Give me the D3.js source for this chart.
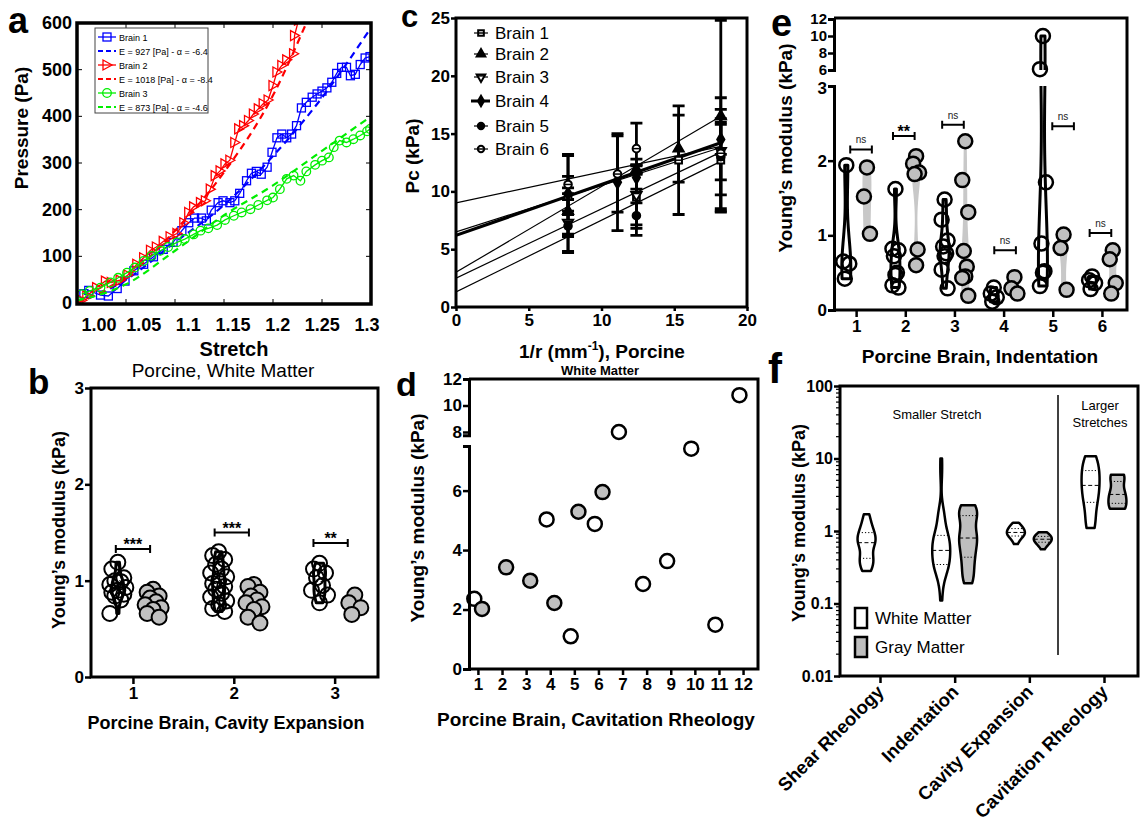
<!DOCTYPE html>
<html>
<head>
<meta charset="utf-8">
<script src="https://cdn.jsdelivr.net/npm/d3@7"></script>
<style>
  body { margin: 0; background: #fff; }
  svg text { font-family: "Liberation Sans", Arial, Helvetica, sans-serif; }
</style>
</head>
<body>
<svg id="fig" width="1144" height="830"></svg>
<script>
// ---------- panel a: pressure vs stretch ----------
const stretchB1 = [1.007,1.012,1.024,1.032,1.041,1.049,1.058,1.068,1.078,1.088,1.098,1.107,1.114,1.120,1.127,1.132,1.137,1.144,1.149,1.156,1.161,1.166,1.173,1.178,1.183,1.188,1.194,1.199,1.204,1.209,1.214,1.219,1.224,1.229,1.234,1.240,1.245,1.250,1.255,1.260,1.265,1.270,1.275,1.279,1.284,1.289,1.294,1.299];
const pressureB1 = [20,27,17,15,31,47,69,83,99,115,130,155,172,182,182,176,199,215,219,215,219,235,262,278,282,276,291,323,354,362,354,362,380,418,430,441,448,454,461,473,492,505,505,487,490,511,525,528];
const stretchB2 = [1.005,1.010,1.020,1.029,1.035,1.044,1.052,1.061,1.068,1.075,1.081,1.088,1.095,1.102,1.109,1.114,1.119,1.126,1.131,1.136,1.141,1.146,1.151,1.156,1.161,1.165,1.170,1.175,1.180,1.185,1.190,1.195,1.200,1.204,1.209,1.214,1.221,1.222,1.226];
const pressureB2 = [6,15,33,47,44,49,60,83,97,113,120,132,142,149,172,194,206,215,219,244,273,283,298,306,344,373,380,391,405,416,427,435,466,495,509,521,534,573,606];
const stretchB3 = [1.005,1.013,1.024,1.034,1.042,1.051,1.059,1.068,1.076,1.085,1.093,1.102,1.110,1.119,1.126,1.134,1.143,1.151,1.160,1.168,1.177,1.185,1.194,1.200,1.207,1.214,1.221,1.228,1.234,1.243,1.250,1.257,1.262,1.268,1.275,1.282,1.289,1.296,1.299];
const pressureB3 = [19,26,33,44,54,65,76,90,101,112,120,130,137,147,155,160,167,178,187,194,201,210,220,226,244,266,273,262,282,296,305,312,334,348,344,351,359,368,373];
const fitStretchB1 = [1.0,1.05,1.1,1.15,1.2,1.25,1.3];
const fitPressureB1 = [0,50,130,210,315,440,590];
const fitStretchB2 = [1.0,1.05,1.1,1.15,1.2,1.234];
const fitPressureB2 = [0,55,155,280,445,600];
const fitStretchB3 = [1.0,1.05,1.1,1.15,1.2,1.25,1.3];
const fitPressureB3 = [5,40,112,188,252,326,400];
const legendA = ['Brain 1','E = 927 [Pa] - \u03b1 = -6.4','Brain 2','E = 1018 [Pa] - \u03b1 = -8.4','Brain 3','E = 873 [Pa] - \u03b1 = -4.6'];
const stretchTicks = [1.0,1.05,1.1,1.15,1.2,1.25,1.3];
const stretchTickLabels = ['1.00','1.05','1.1','1.15','1.2','1.25','1.3'];

// ---------- panel c: Pc vs 1/r ----------
const brainNames = ['Brain 1','Brain 2','Brain 3','Brain 4','Brain 5','Brain 6'];
const invRadius = [[7.7,12.4,15.3,18.2],[7.7,12.4,15.3,18.2],[7.7,12.4,18.2],[7.7,11.1,12.4,18.2],[7.7,12.4,18.2],[7.7,11.1,12.4,18.2]];
const pcMean = [[9.6,9.5,12.7,12.7],[8.3,11.9,13.7,16.5],[7.3,9.7,13.5],[9.8,10.8,11.2,14.5],[7.0,7.9,13.0],[10.6,11.5,13.7,13.3]];
const pcSd = [[3.5,3.3,4.7,4.4],[2.0,0.4,2.9,8.3],[2.5,2.6,2.5],[1.5,4.2,1.0,1.3],[2.3,1.1,3.3],[2.6,3.3,2.2,4.8]];
const fitStartPc = [6.5,3.0,2.5,6.2,1.3,9.0];
const fitEndPc = [13.8,16.5,13.4,14.2,12.6,13.9];
const fitEndInvR = 18.2;

// ---------- panel b: cavity expansion ----------
const cavityWhite = [
  [1.19,1.12,1.03,1.0,0.99,0.96,0.93,0.9,0.88,0.86,0.84,0.80,0.66],
  [1.30,1.26,1.22,1.17,1.12,1.08,1.04,1.0,0.97,0.94,0.91,0.87,0.83,0.79,0.75,0.71,0.68],
  [1.18,1.12,1.08,1.03,0.95,0.90,0.85,0.77]
];
const cavityGray = [
  [0.91,0.88,0.84,0.82,0.78,0.75,0.72,0.70,0.66,0.62],
  [0.96,0.94,0.88,0.84,0.80,0.77,0.73,0.70,0.62,0.56],
  [0.85,0.77,0.72,0.65]
];
const cavitySig = ['***','***','**'];
const cavitySigLevel = [1.33,1.5,1.39];
const cavitySigCenter = [1.0,1.98,2.96];

// ---------- panel d: cavitation rheology ----------
const cavitationBrainWhite = [1,4,5,6,7,8,9,10,11,12];
const cavitationWhite = [2.36,5.03,1.10,4.88,8.0,2.86,3.63,7.41,1.49,10.78];
const cavitationBrainGray = [1,2,3,4,5,6];
const cavitationGray = [2.02,3.42,2.97,2.22,5.29,5.95];

// ---------- panel e: indentation ----------
const indentWhite = [
  [1.94,0.65,0.62,0.42],
  [1.62,0.82,0.80,0.72,0.50,0.47,0.33,0.30],
  [1.48,1.21,0.93,0.85,0.76,0.72,0.54,0.29],
  [0.30,0.22,0.17,0.11],
  [10.0,6.1,1.71,0.89,0.52,0.50,0.32],
  [0.45,0.40,0.36,0.28]
];
const indentGray = [
  [1.91,1.52,1.02],
  [2.06,1.96,1.84,1.82,0.81,0.60],
  [2.26,1.74,1.31,0.79,0.58,0.45,0.43,0.19],
  [0.44,0.29,0.22],
  [1.01,0.83,0.27],
  [0.80,0.68,0.36,0.22]
];
const indentSig = ['ns','**','ns','ns','ns','ns'];
const indentSigLevel = [2.15,2.33,2.48,0.80,2.46,1.03];
const indentSigCenter = [1.1,1.97,2.97,4.03,5.21,5.97];

// ---------- panel f: summary ----------
const methods = ['Shear Rheology','Indentation','Cavity Expansion','Cavitation Rheology'];
const shearWhite = [0.28,0.30,0.33,0.37,0.40,0.42,0.45,0.52,0.62,0.66,0.69,0.72,0.76,0.82,0.88,0.95,1.0,1.1,1.25,1.45,1.7];
const logTicks = [0.01,0.1,1,10,100];
const logTickLabels = ['0.01','0.1','1','10','100'];

const svg = d3.select('#fig');
svg.append('rect').attr('width', 1144).attr('height', 830).attr('fill', '#fff');
const FONT = '"Liberation Sans", Arial, Helvetica, sans-serif';
const GRAY = '#c0c0c0';
const fmtInt = d3.format('d');

function txt(g, x, y, s, size, bold, anchor) {
  return g.append('text').attr('x', x).attr('y', y).text(s)
    .attr('font-size', size).attr('font-weight', bold ? 'bold' : 'normal')
    .attr('text-anchor', anchor || 'start').attr('fill', '#000');
}

function vtxt(g, x, y, s, size) {
  return g.append('text').attr('transform', `translate(${x},${y}) rotate(-90)`)
    .attr('text-anchor', 'middle').attr('font-size', size).attr('font-weight', 'bold').text(s);
}

function styleAxis(a, size) {
  a.attr('font-family', FONT).attr('font-size', size).attr('font-weight', 'bold');
  a.selectAll('.domain').attr('stroke-width', 3);
  a.selectAll('.tick line').attr('stroke-width', 2.5);
  a.selectAll('.tick text').attr('fill', '#000');
}

function clip(id, x, y, w, h) {
  svg.append('clipPath').attr('id', id).append('rect')
    .attr('x', x).attr('y', y).attr('width', w).attr('height', h);
}

function frameLines(g, x0, y0, x1, y1) {
  g.append('path').attr('d', `M${x0},${y0}H${x1}V${y1}H${x0}`)
    .attr('fill', 'none').attr('stroke', '#000').attr('stroke-width', 3);
}

// violin from a gaussian kernel density, computed in pixel space
function violin(g, values, yPix, xc, halfMax, fill, stroke, sw, quart) {
  const px = values.map(yPix);
  const lo = d3.min(px), hi = d3.max(px);
  const bw = Math.max(1.06 * (d3.deviation(px) || 1) * Math.pow(px.length, -0.2) * 0.7, 3);
  const dens = y => d3.sum(px, p => Math.exp(-0.5 * ((y - p) / bw) ** 2));
  const grid = d3.range(61).map(i => lo + (hi - lo) * i / 60);
  const dMax = d3.max(grid, dens);
  const w = y => dens(y) / dMax * halfMax;
  const area = d3.area().y(d => d).x0(d => xc - w(d)).x1(d => xc + w(d)).curve(d3.curveBasis);
  g.append('path').attr('d', area(grid)).attr('fill', fill)
    .attr('stroke', stroke).attr('stroke-width', sw).attr('stroke-linejoin', 'round');
  if (quart) {
    const sorted = values.slice().sort(d3.ascending);
    [[0.25, '1.2,2'], [0.5, '4,2.5'], [0.75, '1.2,2']].forEach(([p, dash]) => {
      const yy = yPix(d3.quantile(sorted, p));
      const ww = w(yy);
      g.append('line').attr('x1', xc - ww).attr('x2', xc + ww).attr('y1', yy).attr('y2', yy)
        .attr('stroke', '#000').attr('stroke-width', 1).attr('stroke-dasharray', dash);
    });
  }
}

function bracket(g, x1, x2, y, label, bigStars) {
  g.append('path').attr('d', `M${x1},${y - 4}V${y + 4}M${x1},${y}H${x2}M${x2},${y - 4}V${y + 4}`)
    .attr('stroke', '#000').attr('stroke-width', 2).attr('fill', 'none');
  if (bigStars) txt(g, (x1 + x2) / 2, y + 1, label, 16, true, 'middle');
  else txt(g, (x1 + x2) / 2, y - 6, label, 10, false, 'middle').attr('fill', '#222');
}

const jitterB = [0, -6, 6, -3, 3, -8, 8];
const jitterE = [0, -3, 3, -1.5, 1.5];

// ================= panel a =================
function drawPanelA() {
  const g = svg.append('g');
  const x = d3.scaleLinear().domain([1.0, 1.3]).range([77, 371]);
  const xLab = d3.scaleLinear().domain([1.0, 1.3]).range([99, 367]);
  const y = d3.scaleLinear().domain([0, 600]).range([303, 23]);
  clip('clipA', 77, 23, 294, 281);
  const plot = g.append('g').attr('clip-path', 'url(#clipA)');

  const series = [
    { s: stretchB1, p: pressureB1, fs: fitStretchB1, fp: fitPressureB1, color: '#0000ff', mark: 'square' },
    { s: stretchB2, p: pressureB2, fs: fitStretchB2, fp: fitPressureB2, color: '#ff0000', mark: 'tri' },
    { s: stretchB3, p: pressureB3, fs: fitStretchB3, fp: fitPressureB3, color: '#00ee00', mark: 'circle' }
  ];
  const line = d3.line().x(d => x(d[0])).y(d => y(d[1]));
  const fitLine = d3.line().x(d => x(d[0])).y(d => y(d[1])).curve(d3.curveMonotoneX);

  function marker(gg, cx, cy, kind, color) {
    if (kind === 'square') {
      gg.append('rect').attr('x', cx - 4).attr('y', cy - 4).attr('width', 8).attr('height', 8)
        .attr('fill', 'none').attr('stroke', color).attr('stroke-width', 1.3);
    } else if (kind === 'tri') {
      gg.append('path').attr('d', `M${cx - 4},${cy - 5}L${cx + 5},${cy}L${cx - 4},${cy + 5}Z`)
        .attr('fill', 'none').attr('stroke', color).attr('stroke-width', 1.3);
    } else {
      gg.append('circle').attr('cx', cx).attr('cy', cy).attr('r', 4.3)
        .attr('fill', 'none').attr('stroke', color).attr('stroke-width', 1.3);
    }
  }

  series.forEach(sr => {
    const pts = sr.s.map((v, i) => [v, sr.p[i]]);
    plot.append('path').attr('d', line(pts)).attr('fill', 'none')
      .attr('stroke', sr.color).attr('stroke-width', 1.3);
    pts.forEach(d => marker(plot, x(d[0]), y(d[1]), sr.mark, sr.color));
    plot.append('path').attr('d', fitLine(sr.fs.map((v, i) => [v, sr.fp[i]])))
      .attr('fill', 'none').attr('stroke', sr.color).attr('stroke-width', 2.2)
      .attr('stroke-dasharray', '7,5');
  });

  // inside ticks
  d3.range(100, 600, 100).forEach(v => {
    g.append('line').attr('x1', 77).attr('x2', 82).attr('y1', y(v)).attr('y2', y(v)).attr('stroke', '#000').attr('stroke-width', 1);
    g.append('line').attr('x1', 366).attr('x2', 371).attr('y1', y(v)).attr('y2', y(v)).attr('stroke', '#000').attr('stroke-width', 1);
  });
  stretchTicks.slice(1, -1).forEach(v => {
    g.append('line').attr('x1', x(v)).attr('x2', x(v)).attr('y1', 304).attr('y2', 299).attr('stroke', '#000').attr('stroke-width', 1);
    g.append('line').attr('x1', x(v)).attr('x2', x(v)).attr('y1', 23).attr('y2', 28).attr('stroke', '#000').attr('stroke-width', 1);
  });
  g.append('rect').attr('x', 77).attr('y', 23).attr('width', 294).attr('height', 281)
    .attr('fill', 'none').attr('stroke', '#000').attr('stroke-width', 3.5);

  d3.range(0, 601, 100).forEach(v => txt(g, 72, y(v) + 6, String(v), 18, true, 'end'));
  stretchTicks.forEach((v, i) => txt(g, xLab(v), 331, stretchTickLabels[i], 18, true, 'middle'));
  vtxt(g, 28, 128, 'Pressure (Pa)', 19);
  txt(g, 234, 356, 'Stretch', 20, true, 'middle');
  txt(g, 8, 33, 'a', 36, true);

  // legend
  const lg = g.append('g');
  lg.append('rect').attr('x', 95).attr('y', 28).attr('width', 113).attr('height', 85)
    .attr('fill', '#fff').attr('stroke', '#444').attr('stroke-width', 1);
  legendA.forEach((s, i) => {
    const ly = 37 + i * 14;
    const sr = series[Math.floor(i / 2)];
    const dashed = i % 2 === 1;
    lg.append('line').attr('x1', 98).attr('x2', 116).attr('y1', ly).attr('y2', ly)
      .attr('stroke', sr.color).attr('stroke-width', dashed ? 2 : 1.3)
      .attr('stroke-dasharray', dashed ? '5,3' : null);
    if (!dashed) marker(lg, 107, ly, sr.mark, sr.color);
    txt(lg, 119, ly + 3.5, s, 9, false);
  });
}

// ================= panel c =================
function drawPanelC() {
  const g = svg.append('g');
  const x = d3.scaleLinear().domain([0, 20]).range([456, 747]);
  const y = d3.scaleLinear().domain([0, 25]).range([307, 18]);
  clip('clipC', 456, 18, 291, 289);
  const plot = g.append('g').attr('clip-path', 'url(#clipC)');

  fitStartPc.forEach((v, i) => {
    plot.append('line').attr('x1', x(0)).attr('y1', y(v)).attr('x2', x(fitEndInvR)).attr('y2', y(fitEndPc[i]))
      .attr('stroke', '#000').attr('stroke-width', i === 3 ? 3.2 : 1.2);
  });

  const symbols = [d3.symbolSquare, d3.symbolTriangle, d3.symbolTriangle, d3.symbolDiamond, d3.symbolCircle, d3.symbolCircle];
  const fills = ['#fff', '#000', '#fff', '#000', '#000', '#fff'];
  const rot = [0, 0, 180, 0, 0, 0];
  function mark(gg, cx, cy, i, size) {
    gg.append('path').attr('d', d3.symbol().type(symbols[i]).size(size)())
      .attr('transform', `translate(${cx},${cy}) rotate(${rot[i]})`)
      .attr('fill', fills[i]).attr('stroke', '#000').attr('stroke-width', 2);
    if (i === 0 || i === 5 || i === 2) {
      const h = Math.sqrt(size) / 2;
      const dy = i === 2 ? -h * 0.4 : 0;
      gg.append('line').attr('x1', cx - h).attr('x2', cx + h).attr('y1', cy + dy).attr('y2', cy + dy)
        .attr('stroke', '#000').attr('stroke-width', 1.5);
    }
  }

  invRadius.forEach((xs, i) => {
    xs.forEach((xv, j) => {
      const m = pcMean[i][j], s = pcSd[i][j];
      const cx = x(xv);
      plot.append('path')
        .attr('d', `M${cx - 6},${y(m + s)}H${cx + 6}M${cx},${y(m + s)}V${y(m - s)}M${cx - 6},${y(m - s)}H${cx + 6}`)
        .attr('stroke', '#000').attr('stroke-width', 2.8).attr('fill', 'none');
    });
  });
  invRadius.forEach((xs, i) => {
    xs.forEach((xv, j) => mark(plot, x(xv), y(pcMean[i][j]), i, 45));
  });

  g.append('rect').attr('x', 456).attr('y', 18).attr('width', 291).attr('height', 289)
    .attr('fill', 'none').attr('stroke', '#000').attr('stroke-width', 3);
  const ay = g.append('g').attr('transform', 'translate(456,0)')
    .call(d3.axisLeft(y).tickValues([0, 5, 10, 15, 20, 25]).tickFormat(fmtInt).tickSize(5).tickSizeOuter(0).tickPadding(1));
  styleAxis(ay, 17); ay.select('.domain').remove();
  const axb = g.append('g').attr('transform', 'translate(0,307)')
    .call(d3.axisBottom(x).tickValues([0, 5, 10, 15, 20]).tickFormat(fmtInt).tickSize(4).tickSizeOuter(0).tickPadding(3));
  styleAxis(axb, 17); axb.select('.domain').remove();

  // legend
  brainNames.forEach((s, i) => {
    const ly = [33, 54, 77, 101, 126, 149][i];
    g.append('line').attr('x1', i === 3 ? 471 : 474).attr('x2', i === 3 ? 490 : 488).attr('y1', ly).attr('y2', ly)
      .attr('stroke', '#000').attr('stroke-width', i === 3 ? 3 : 1.2);
    mark(g, 481, ly, i, 32);
    txt(g, 495, ly + 6, s, 17, false);
  });

  vtxt(g, 419, 156, 'Pc (kPa)', 19);
  const t = txt(g, 602, 358, '1/r (mm', 19, true, 'middle');
  t.append('tspan').attr('dy', -8).attr('font-size', 12).text('-1');
  t.append('tspan').attr('dy', 8).text('), Porcine');
  txt(g, 600, 375, 'White Matter', 13, true, 'middle');
  txt(g, 401, 27, 'c', 31, true);
}

// ================= panel b =================
function drawPanelB() {
  const g = svg.append('g');
  const x = d3.scaleLinear().domain([0.584, 3.43]).range([91, 378]);
  const y = d3.scaleLinear().domain([0, 3]).range([677, 388]);
  const off = 0.15, offG = 0.2;

  cavityGray.forEach((vals, i) => violin(g, vals, y, x(i + 1 + offG), 5, '#c8c8c8', 'none', 0, false));
  cavityGray.forEach((vals, i) => vals.forEach((v, k) => {
    g.append('circle').attr('cx', x(i + 1 + offG) + jitterB[k % 7]).attr('cy', y(v)).attr('r', 7.5)
      .attr('fill', GRAY).attr('stroke', '#000').attr('stroke-width', 2);
  }));
  cavityWhite.forEach((vals, i) => vals.forEach((v, k) => {
    g.append('circle').attr('cx', x(i + 1 - off) + jitterB[k % 7]).attr('cy', y(v)).attr('r', 7.5)
      .attr('fill', 'none').attr('stroke', '#000').attr('stroke-width', 2);
  }));
  cavityWhite.forEach((vals, i) => violin(g, vals, y, x(i + 1 - off), 6, 'none', '#000', 3, true));
  cavitySig.forEach((s, i) => bracket(g, x(cavitySigCenter[i] - 0.17), x(cavitySigCenter[i] + 0.17), y(cavitySigLevel[i]), s, true));

  g.append('rect').attr('x', 91).attr('y', 388).attr('width', 287).attr('height', 289)
    .attr('fill', 'none').attr('stroke', '#000').attr('stroke-width', 3);
  const ay = g.append('g').attr('transform', 'translate(91,0)')
    .call(d3.axisLeft(y).tickValues([0, 1, 2, 3]).tickFormat(fmtInt).tickSize(6).tickSizeOuter(0).tickPadding(1));
  styleAxis(ay, 17); ay.select('.domain').remove();
  const axb = g.append('g').attr('transform', 'translate(0,677)')
    .call(d3.axisBottom(x).tickValues([1, 2, 3]).tickFormat(fmtInt).tickSize(7).tickSizeOuter(0).tickPadding(3));
  styleAxis(axb, 17); axb.select('.domain').remove();

  vtxt(g, 65, 530, 'Young\u2019s modulus (kPa)', 18);
  txt(g, 226, 729, 'Porcine Brain, Cavity Expansion', 18, true, 'middle');
  txt(g, 223, 377, 'Porcine, White Matter', 19, false, 'middle');
  txt(g, 28, 394, 'b', 35, true);
}

// ================= panel d =================
function drawPanelD() {
  const g = svg.append('g');
  const x = d3.scaleLinear().domain([0.63, 12.62]).range([469, 758]);
  const yLow = d3.scaleLinear().domain([0, 7.5]).range([669, 446]);
  const yHigh = d3.scaleLinear().domain([8, 12]).range([432, 379]);
  const yHighAxis = d3.scaleLinear().domain([7.75, 12]).range([yHigh(7.75), 379]);
  const y = v => v <= 7.5 ? yLow(v) : yHigh(v);

  cavitationWhite.forEach((v, i) => {
    g.append('circle').attr('cx', x(cavitationBrainWhite[i] - 0.15)).attr('cy', y(v)).attr('r', 7)
      .attr('fill', '#fff').attr('stroke', '#000').attr('stroke-width', 2.5);
  });
  cavitationGray.forEach((v, i) => {
    g.append('circle').attr('cx', x(cavitationBrainGray[i] + 0.17)).attr('cy', y(v)).attr('r', 7)
      .attr('fill', GRAY).attr('stroke', '#000').attr('stroke-width', 2.5);
  });

  frameLines(g, 469, 379, 758, 669);
  const a1 = g.append('g').attr('transform', 'translate(469,0)')
    .call(d3.axisLeft(yLow).tickValues([0, 2, 4, 6]).tickFormat(fmtInt).tickSize(6).tickSizeOuter(6).tickPadding(1));
  styleAxis(a1, 17);
  const a2 = g.append('g').attr('transform', 'translate(469,0)')
    .call(d3.axisLeft(yHighAxis).tickValues([8, 10, 12]).tickFormat(fmtInt).tickSize(6).tickSizeOuter(6).tickPadding(1));
  styleAxis(a2, 17);
  const axb = g.append('g').attr('transform', 'translate(0,669)')
    .call(d3.axisBottom(x).tickValues(d3.range(1, 13)).tickFormat(fmtInt).tickSize(6).tickSizeOuter(0).tickPadding(3));
  styleAxis(axb, 17); axb.select('.domain').remove();

  vtxt(g, 424, 518, 'Young\u2019s modulus (kPa)', 19);
  txt(g, 596, 726, 'Porcine Brain, Cavitation Rheology', 19, true, 'middle');
  txt(g, 396, 396, 'd', 34, true);
}

// ================= panel e =================
function drawPanelE() {
  const g = svg.append('g');
  const x = d3.scaleLinear().domain([0.55, 6.51]).range([834, 1127]);
  const yLow = d3.scaleLinear().domain([0, 3]).range([310, 86]);
  const yHigh = d3.scaleLinear().domain([6, 12]).range([70, 19]);
  const y = v => v <= 3 ? yLow(v) : v >= 6 ? yHigh(v) : 86 + (v - 3) / 3 * (70 - 86);
  clip('clipELow', 834, 86, 293, 224);
  clip('clipEHigh', 834, 18, 293, 52);
  const layers = [g.append('g').attr('clip-path', 'url(#clipELow)'), g.append('g').attr('clip-path', 'url(#clipEHigh)')];
  const off = 0.2, offG = 0.22;

  layers.forEach(l => indentGray.forEach((vals, i) => violin(l, vals, y, x(i + 1 + offG), 4.5, '#c8c8c8', 'none', 0, false)));
  indentGray.forEach((vals, i) => vals.forEach((v, k) => {
    g.append('circle').attr('cx', x(i + 1 + offG) + jitterE[k % 5]).attr('cy', y(v)).attr('r', 7)
      .attr('fill', GRAY).attr('stroke', '#000').attr('stroke-width', 2.5);
  }));
  indentWhite.forEach((vals, i) => vals.forEach((v, k) => {
    g.append('circle').attr('cx', x(i + 1 - off) + jitterE[k % 5]).attr('cy', y(v)).attr('r', 7)
      .attr('fill', 'none').attr('stroke', '#000').attr('stroke-width', 2.5);
  }));
  layers.forEach(l => indentWhite.forEach((vals, i) => violin(l, vals, y, x(i + 1 - off), 4.5, 'none', '#000', 3, false)));
  indentSig.forEach((s, i) => bracket(g, x(indentSigCenter[i] - 0.22), x(indentSigCenter[i] + 0.22), y(indentSigLevel[i]), s, s !== 'ns'));

  frameLines(g, 834, 18, 1127, 310);
  const a1 = g.append('g').attr('transform', 'translate(834,0)')
    .call(d3.axisLeft(yLow).tickValues([0, 1, 2, 3]).tickFormat(fmtInt).tickSize(6).tickSizeOuter(6).tickPadding(1));
  styleAxis(a1, 17);
  a1.selectAll('.tick text').filter(d => d === 3).attr('dy', '0.45em');
  const a2 = g.append('g').attr('transform', 'translate(834,0)')
    .call(d3.axisLeft(yHigh).tickValues([6, 8, 10, 12]).tickFormat(fmtInt).tickSize(6).tickSizeOuter(6).tickPadding(1));
  styleAxis(a2, 15);
  a2.selectAll('.tick text').attr('dy', '0.3em');
  const axb = g.append('g').attr('transform', 'translate(0,310)')
    .call(d3.axisBottom(x).tickValues(d3.range(1, 7)).tickFormat(fmtInt).tickSize(7).tickSizeOuter(0).tickPadding(3));
  styleAxis(axb, 17); axb.select('.domain').remove();

  vtxt(g, 792, 148, 'Young\u2019s modulus (kPa)', 19);
  txt(g, 980, 363, 'Porcine Brain, Indentation', 19, true, 'middle');
  txt(g, 771, 36, 'e', 38, true);
}

// ================= panel f =================
function drawPanelF() {
  const g = svg.append('g');
  const x = d3.scalePoint().domain(methods).range([880, 1104]);
  const y = d3.scaleLog().domain([0.01, 100]).range([676, 386]);
  const off = 0.18 * x.step();
  const whiteSets = [shearWhite, indentWhite.flat(), cavityWhite.flat(), cavitationWhite];
  const graySets = [null, indentGray.flat(), cavityGray.flat(), cavitationGray];

  methods.forEach((m, i) => {
    violin(g, whiteSets[i], y, x(m) - off, 9, '#fff', '#000', 2.5, true);
    if (graySets[i]) violin(g, graySets[i], y, x(m) + off, 9, '#bebebe', '#000', 2.5, true);
  });

  g.append('line').attr('x1', 1058).attr('x2', 1058).attr('y1', 395).attr('y2', 655)
    .attr('stroke', '#000').attr('stroke-width', 1.5);
  txt(g, 937, 419, 'Smaller Stretch', 13, false, 'middle');
  txt(g, 1100, 410, 'Larger', 13, false, 'middle');
  txt(g, 1100, 427, 'Stretches', 13, false, 'middle');

  // legend
  g.append('rect').attr('x', 855).attr('y', 608).attr('width', 12).attr('height', 20)
    .attr('fill', '#fff').attr('stroke', '#000').attr('stroke-width', 2.5);
  g.append('rect').attr('x', 855).attr('y', 637).attr('width', 12).attr('height', 20)
    .attr('fill', '#bebebe').attr('stroke', '#000').attr('stroke-width', 2.5);
  txt(g, 875, 624, 'White Matter', 17, false);
  txt(g, 875, 653, 'Gray Matter', 17, false);

  g.append('rect').attr('x', 840).attr('y', 386).attr('width', 298).attr('height', 290)
    .attr('fill', 'none').attr('stroke', '#000').attr('stroke-width', 3);
  // minor ticks
  [0.01, 0.1, 1, 10].forEach(d => d3.range(2, 10).forEach(k => {
    g.append('line').attr('x1', 836).attr('x2', 840).attr('y1', y(k * d)).attr('y2', y(k * d))
      .attr('stroke', '#000').attr('stroke-width', 1.2);
  }));
  const ay = g.append('g').attr('transform', 'translate(840,0)')
    .call(d3.axisLeft(y).tickValues(logTicks).tickFormat((d, i) => logTickLabels[i]).tickSize(6).tickSizeOuter(0).tickPadding(1));
  styleAxis(ay, 16); ay.select('.domain').remove();
  const axb = g.append('g').attr('transform', 'translate(0,676)')
    .call(d3.axisBottom(x).tickSize(7).tickSizeOuter(0).tickFormat(''));
  styleAxis(axb, 16); axb.select('.domain').remove();
  methods.forEach(m => {
    g.append('text').attr('transform', `translate(${x(m) + 5},${693}) rotate(-45)`)
      .attr('text-anchor', 'end').attr('font-size', 18.5).attr('font-weight', 'bold').text(m);
  });

  vtxt(g, 805, 523, 'Young\u2019s modulus (kPa)', 18);
  txt(g, 768, 383, 'f', 42, true);
}

drawPanelA();
drawPanelC();
drawPanelE();
drawPanelB();
drawPanelD();
drawPanelF();
</script>
</body>
</html>
